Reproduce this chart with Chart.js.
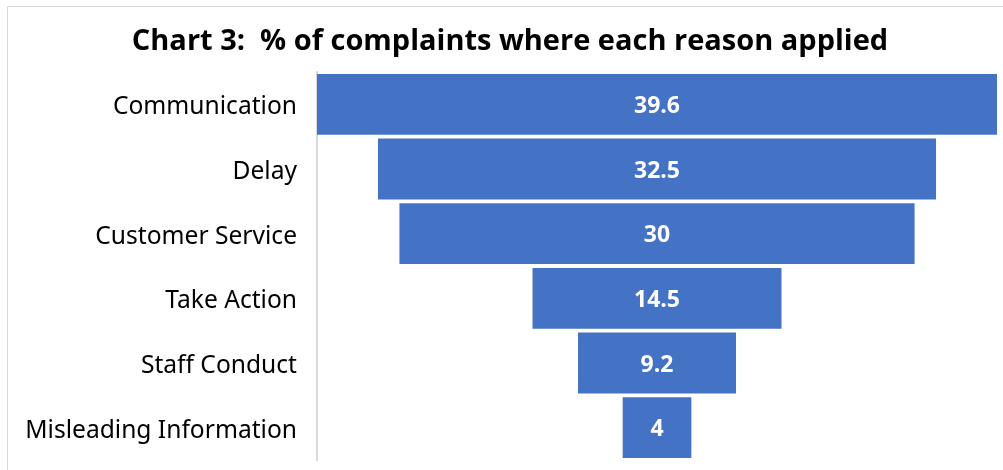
<!DOCTYPE html>
<html>
<head>
<meta charset="utf-8">
<script src="https://cdn.jsdelivr.net/npm/chart.js@4.4.1/dist/chart.umd.min.js"></script>
<style>
  html, body { margin: 0; padding: 0; background: #ffffff; }
  #wrap { position: relative; width: 1003px; height: 470px; overflow: hidden; }
  #frame { position: absolute; left: 7px; top: 6px; width: 1100px; height: 600px;
           border-left: 1px solid #d9d9d9; border-top: 1px solid #d9d9d9; pointer-events: none; }
  canvas { position: absolute; left: 0; top: 0; }
</style>
</head>
<body>
<div id="wrap">
  <div id="frame"></div>
  <canvas id="c" width="1003" height="470"></canvas>
</div>
<script>
const categories = ["Communication", "Delay", "Customer Service", "Take Action", "Staff Conduct", "Misleading Information"];
const values = [39.6, 32.5, 30, 14.5, 9.2, 4];
const valueLabels = ["39.6", "32.5", "30", "14.5", "9.2", "4"];
const chartTitle = "Chart 3:  % of complaints where each reason applied";

const maxVal = Math.max(...values);
const funnelData = values.map(v => [-v / 2, v / 2]);

const labelPlugin = {
  id: 'barLabels',
  afterDatasetsDraw(chart) {
    const ctx = chart.ctx;
    const meta = chart.getDatasetMeta(0);
    ctx.save();
    ctx.fillStyle = '#ffffff';
    ctx.font = 'bold 23px "Open Sans", "Noto Sans", sans-serif';
    ctx.textAlign = 'center';
    ctx.textBaseline = 'middle';
    meta.data.forEach((bar, i) => {
      const p = bar.getProps(['x', 'y', 'base'], true);
      const cx = (p.x + p.base) / 2;
      ctx.fillText(valueLabels[i], cx, p.y + 2);
    });
    ctx.restore();
  }
};

const titlePlugin = {
  id: 'customTitle',
  afterDraw(chart) {
    const ctx = chart.ctx;
    ctx.save();
    ctx.fillStyle = '#000000';
    ctx.font = 'bold 29px "Open Sans", "Noto Sans", sans-serif';
    ctx.textAlign = 'center';
    ctx.textBaseline = 'middle';
    ctx.fillText(chartTitle, 510, 42);
    ctx.restore();
  }
};

new Chart(document.getElementById('c'), {
  type: 'bar',
  data: {
    labels: categories,
    datasets: [{
      data: funnelData,
      backgroundColor: '#4472C4',
      borderWidth: 0,
      borderSkipped: false,
      barPercentage: 1.0,
      categoryPercentage: 0.94
    }]
  },
  options: {
    indexAxis: 'y',
    responsive: false,
    animation: false,
    layout: { padding: { left: 0, right: 6, top: 72, bottom: 10 } },
    plugins: {
      legend: { display: false },
      tooltip: { enabled: false },
      title: { display: false }
    },
    scales: {
      x: {
        display: false,
        min: -maxVal / 2,
        max: maxVal / 2
      },
      y: {
        afterFit(scale) { scale.width = 317; scale.paddingTop = 0; scale.paddingBottom = 0; },
        grid: { display: false, drawTicks: false },
        border: { display: true, color: '#d9d9d9', width: 2 },
        ticks: {
          color: '#000000',
          padding: 20,
          labelOffset: 3,
          font: { family: '"Noto Sans", "Open Sans", sans-serif', size: 24.6 }
        }
      }
    }
  },
  plugins: [labelPlugin, titlePlugin]
});
</script>
</body>
</html>
